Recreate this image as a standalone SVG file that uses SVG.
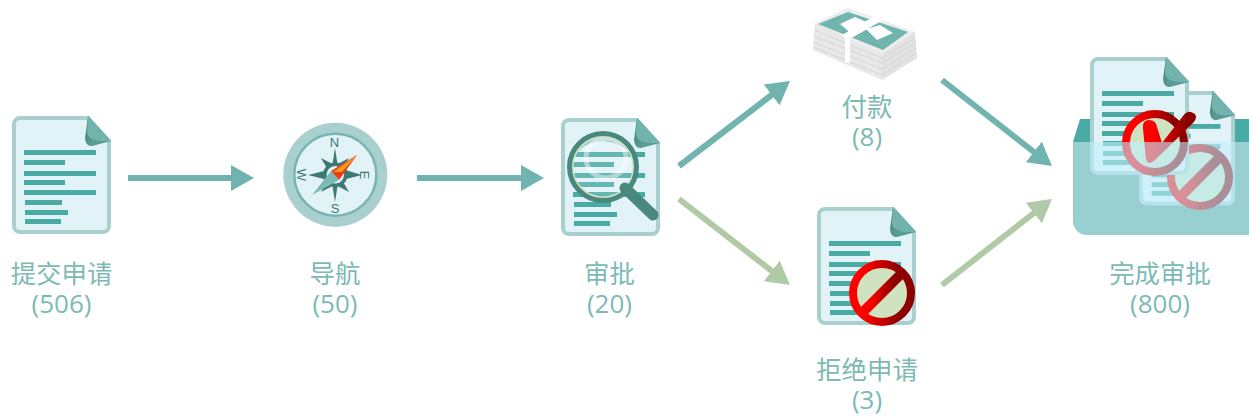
<svg xmlns="http://www.w3.org/2000/svg" width="1249" height="417" viewBox="0 0 1249 417">
<style>
.l{font-family:"Open Sans","Noto Sans CJK SC",sans-serif;font-size:26px;fill:#7cbab4;text-anchor:middle}
.c{font-family:"Noto Sans CJK SC","Open Sans",sans-serif;font-size:25.400px;fill:#7cbab4;text-anchor:middle}
.cp{font-family:"Liberation Sans",sans-serif;font-size:13px;fill:#3f7873;text-anchor:middle}
.teal{stroke:#70b3af;stroke-width:6;fill:none;marker-end:url(#at)}
.green{stroke:#b0c9a6;stroke-width:6;fill:none;marker-end:url(#ag)}
.rows rect{fill:#4aaba4;height:5px}
</style>
<defs>
<marker id="at" markerUnits="userSpaceOnUse" markerWidth="26" markerHeight="28" refX="18" refY="13" orient="auto"><path d="M0 0L23 13L0 26Z" fill="#70b3af"/></marker>
<marker id="ag" markerUnits="userSpaceOnUse" markerWidth="26" markerHeight="28" refX="18" refY="13" orient="auto"><path d="M0 0L23 13L0 26Z" fill="#b0c9a6"/></marker>
<linearGradient id="red" x1="0" x2="1" y1="0" y2="0"><stop offset="0.2" stop-color="#ff0000"/><stop offset="0.8" stop-color="#8c0000"/></linearGradient>
<linearGradient id="fold" x1="0" x2="1" y1="0" y2="0.4"><stop offset="0" stop-color="#3f8078"/><stop offset="0.5" stop-color="#5a9c95"/></linearGradient>
<g id="doc">
<path d="M8 2H76L97 25V110a6 6 0 0 1-6 6H8a6 6 0 0 1-6-6V8a6 6 0 0 1 6-6Z" fill="#e2f3f8" stroke="#a9cfcf" stroke-width="4"/>
<path d="M76 0L99 25L80 30Q74 31 73 22Z" fill="url(#fold)"/>
<path d="M76 0L99 25L88 25Q76 24 75 16Z" fill="#72b3ae"/>
<g class="rows">
<rect x="12" y="34" width="72"/><rect x="12" y="44" width="41"/><rect x="12" y="55" width="72"/><rect x="12" y="64" width="41"/><rect x="12" y="74" width="72"/><rect x="13" y="84" width="37"/><rect x="13" y="94" width="43"/><rect x="13" y="103" width="36"/>
</g>
</g>
<g id="ban">
<circle r="29" fill="#d0e3c0" stroke="url(#red)" stroke-width="8"/>
<path d="M-21 21L21-21" stroke="url(#red)" stroke-width="10"/>
</g>
<g id="tick">
<circle r="29" fill="#d0e3c0" stroke="url(#red)" stroke-width="8"/>
<path d="M-6-23Q-13-23-12-14L-9 16Q-7 24 1 16L38-20Q45-28 36-31Q32-32 28-27L7 0L2-16Q1-23-6-23Z" fill="url(#red)"/>
</g>
<g id="papers">
<use href="#doc" transform="translate(1139 91) scale(.97)"/>
<use href="#ban" transform="translate(1200 177)"/>
<use href="#doc" transform="translate(1090 57)"/>
<use href="#tick" transform="translate(1155 143)"/>
</g>
<clipPath id="up"><rect x="1060" y="0" width="189" height="142"/></clipPath>
<clipPath id="dn"><rect x="1060" y="142" width="189" height="120"/></clipPath>
<clipPath id="glass"><circle cx="603" cy="167" r="32"/></clipPath>
<filter id="veil" filterUnits="userSpaceOnUse" x="1060" y="40" width="189" height="230" color-interpolation-filters="sRGB"><feColorMatrix type="matrix" values=".4 0 0 0 .449 0 .4 0 0 .56 0 0 .4 0 .595 0 0 0 1 0"/></filter>
</defs>

<g id="connectors">
<path class="teal" d="M128 178H249"/>
<path class="teal" d="M417 178H539"/>
<path class="teal" d="M679 166L786 84"/>
<path class="green" d="M679 199L786 282"/>
<path class="teal" d="M942 80L1048 163"/>
<path class="green" d="M942 285L1048 202"/>
</g>

<g id="node-submit">
<use href="#doc" transform="translate(12 116)"/>
<text class="c" x="61.500" y="283">提交申请</text>
<text class="l" x="61.500" y="313">(506)</text>
</g>

<g id="node-nav">
<circle cx="335.300" cy="174.700" r="52" fill="#a9cfcf"/>
<circle cx="335.300" cy="174.700" r="41" fill="#e2f3f8" stroke="#78b5b1" stroke-width="2.500"/>
<path d="M335 148L337.500 164L349 158L342 169L362 175L342 180L349 192L337.500 186L335 202L332.500 186L321 192L328 180L308 175L328 170L321 158L332.500 164Z" fill="#3f7873"/>
<circle cx="335.300" cy="174.700" r="10.500" fill="#e2f3f8" stroke="#3f7873" stroke-width="3.500"/>
<path d="M357 155L339 180L331 171Z" fill="#ee3a10"/>
<path d="M357 155L342 172L333 172Z" fill="#f59a20"/>
<path d="M312 195L331 171L339 180Z" fill="#7dbab5"/>
<text class="cp" x="334.500" y="147">N</text>
<text class="cp" x="335" y="213">S</text>
<text class="cp" transform="translate(364 175) rotate(90)" y="4.500">E</text>
<text class="cp" transform="translate(301 175) rotate(90)" y="4.500">W</text>
<text class="c" x="335" y="283">导航</text>
<text class="l" x="335" y="313">(50)</text>
</g>

<g id="node-review">
<use href="#doc" transform="translate(561 118)"/>
<g clip-path="url(#glass)"><circle cx="603" cy="167" r="32" fill="#fff" opacity=".15"/><path d="M571 167A32 32 0 0 1 635 167Q632 144 603 141Q576 143 571 167Z" fill="#8fc4c2" opacity=".8"/><circle cx="606" cy="158" r="20" fill="none" stroke="#fff" stroke-width="5" opacity=".45"/></g>
<circle cx="603" cy="167" r="30.500" fill="none" stroke="#d0e3c0" stroke-width="2"/>
<circle cx="603" cy="167" r="33.500" fill="none" stroke="#48887f" stroke-width="5"/>
<path d="M625 188L653 215" stroke="#48887f" stroke-width="11" stroke-linecap="round"/>
<text class="c" x="609.500" y="283">审批</text>
<text class="l" x="609.500" y="313">(20)</text>
</g>

<g id="node-pay">
<path d="M815 23L882 52L882 80L813 50Z" fill="#e8e8e8"/>
<path d="M882 52L915 32L917 58L882 80Z" fill="#e2e2e2"/>
<path d="M814 30L882 58M814 36L882 63M813 42L882 69M813 47L882 75M882 58L915 38M882 63L916 43M882 69L916 48M882 75L917 53" stroke="#d6d6d6" stroke-width="1" fill="none"/>
<path d="M815 23L848 8L915 32L882 54Z" fill="#ededed"/>
<path d="M818 24L848 12L908 32L883 50Z" fill="#70b5ae"/>
<path d="M840 24L855 17L871 24L853 35Z" fill="#fff"/>
<path d="M866 29L880 25L893 33L877 40Z" fill="#fff"/>
<path d="M873 17L883 20L850 39V63L845 62V38L842 35Z" fill="#fff"/>
<text class="c" x="867" y="116">付款</text>
<text class="l" x="867" y="146">(8)</text>
</g>

<g id="node-reject">
<use href="#doc" transform="translate(817 207)"/>
<use href="#ban" transform="translate(882 293)"/>
<text class="c" x="867" y="379">拒绝申请</text>
<text class="l" x="867" y="409">(3)</text>
</g>

<g id="node-done">
<path d="M1073 142L1080 119H1249V142Z" fill="#4aaba4"/>
<g clip-path="url(#up)"><use href="#papers"/></g>
<path d="M1073 142H1249V235H1087a14 14 0 0 1-14-14Z" fill="#98cfd1"/>
<g clip-path="url(#dn)"><g filter="url(#veil)"><use href="#papers"/></g></g>
<text class="c" x="1160" y="283">完成审批</text>
<text class="l" x="1160" y="313">(800)</text>
</g>
</svg>
